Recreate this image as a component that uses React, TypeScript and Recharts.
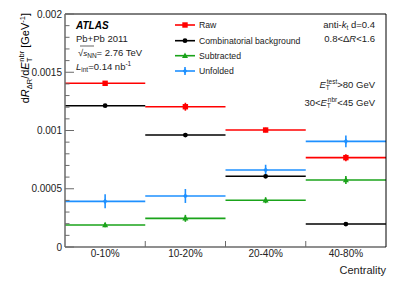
import React from 'react'
import { ComposedChart, Scatter, ErrorBar, XAxis, YAxis, ReferenceLine } from 'recharts'

const categories = ['0-10%', '10-20%', '20-40%', '40-80%']
const raw = [0.001405, 0.001204, 0.001004, 0.000767]
const rawErr = [0.00002, 0.000034, 0.00002, 0.00003]
const background = [0.001213, 0.000961, 0.000607, 0.000197]
const backgroundErr = [0.000006, 0.000006, 0.000006, 0.000005]
const subtracted = [0.000189, 0.000246, 0.000401, 0.000575]
const subtractedErr = [0.00002, 0.00003, 0.000025, 0.000034]
const unfolded = [0.000392, 0.000438, 0.000661, 0.000907]
const unfoldedErr = [0.00006, 0.00006, 0.000045, 0.00005]
const yMajor = [0, 0.0005, 0.001, 0.0015, 0.002]
const yLabels = ['0', '0.0005', '0.001', '0.0015', '0.002']
const yMinor = Array.from({ length: 21 }, (_, i) => i * 0.0001)
const xBounds = [0, 1, 2, 3, 4]

const W = 407
const H = 294
const M = { top: 14, right: 21, bottom: 47, left: 65 }
const font = '"Liberation Sans", Arial, sans-serif'
const axisGray = '#6a6a6a'

const series = [
  { name: 'Raw', values: raw, errs: rawErr, color: '#ff0000', marker: 'square' },
  { name: 'Combinatorial background', values: background, errs: backgroundErr, color: '#000000', marker: 'circle' },
  { name: 'Subtracted', values: subtracted, errs: subtractedErr, color: '#1aa31a', marker: 'triangle' },
  { name: 'Unfolded', values: unfolded, errs: unfoldedErr, color: '#1e90ff', marker: 'diamond' },
]

function Marker({ type, cx, cy, color }: { type: string; cx: number; cy: number; color: string }) {
  if (type === 'square') return <rect x={cx - 2.7} y={cy - 2.7} width={5.4} height={5.4} fill={color} />
  if (type === 'circle') return <circle cx={cx} cy={cy} r={2.4} fill={color} />
  if (type === 'triangle')
    return <polygon points={`${cx},${cy - 3.3} ${cx + 3},${cy + 2.2} ${cx - 3},${cy + 2.2}`} fill={color} />
  return <polygon points={`${cx},${cy - 2.8} ${cx + 2.2},${cy} ${cx},${cy + 2.8} ${cx - 2.2},${cy}`} fill={color} />
}

function isMajor(v: number) {
  return yMajor.some((m) => Math.abs(m - v) < 1e-9)
}

function LeftTick(props: any) {
  const { y, payload } = props
  const major = isMajor(payload.value)
  const idx = yMajor.findIndex((m) => Math.abs(m - payload.value) < 1e-9)
  const x0 = M.left
  return (
    <g>
      <line x1={x0} x2={x0 + (major ? 9 : 4.5)} y1={y} y2={y} stroke={axisGray} strokeWidth={1} />
      {major && (
        <text x={x0 - 3} y={y + 3.5} textAnchor="end" fontSize={10} fill="#222" fontFamily={font}>
          {yLabels[idx]}
        </text>
      )}
    </g>
  )
}

function RightTick(props: any) {
  const { y, payload } = props
  const major = isMajor(payload.value)
  const x0 = W - M.right
  return <line x1={x0} x2={x0 - (major ? 9 : 4.5)} y1={y} y2={y} stroke={axisGray} strokeWidth={1} />
}

function BottomTick(props: any) {
  const { x, payload } = props
  const y0 = H - M.bottom
  const v = payload.value
  if (v === 0 || v === 4) return null
  return <line x1={x} x2={x} y1={y0} y2={y0 - 6} stroke={axisGray} strokeWidth={1} />
}

function TopTick(props: any) {
  const { x, payload } = props
  const v = payload.value
  if (v === 0 || v === 4) return null
  return <line x1={x} x2={x} y1={M.top} y2={M.top + 6} stroke={axisGray} strokeWidth={1} />
}

export default function App() {
  const plotW = W - M.left - M.right
  return (
    <div style={{ position: 'absolute', left: 0, top: 0, width: W, height: H, background: '#fff' }}>
      <ComposedChart width={W} height={H} margin={{ top: 0, right: 0, bottom: 0, left: 0 }}>
        <XAxis
          xAxisId="b"
          type="number"
          dataKey="x"
          domain={[0, 4]}
          ticks={xBounds}
          tick={<BottomTick />}
          tickLine={false}
          axisLine={{ stroke: axisGray, strokeWidth: 1.5 }}
          height={M.bottom}
          interval={0}
        />
        <XAxis
          xAxisId="t"
          orientation="top"
          type="number"
          domain={[0, 4]}
          ticks={xBounds}
          tick={<TopTick />}
          tickLine={false}
          axisLine={{ stroke: '#000', strokeWidth: 1 }}
          height={M.top}
          interval={0}
        />
        <YAxis
          yAxisId="l"
          type="number"
          domain={[0, 0.002]}
          ticks={yMinor}
          tick={<LeftTick />}
          tickLine={false}
          axisLine={{ stroke: axisGray, strokeWidth: 1.5 }}
          width={M.left}
          interval={0}
        />
        <YAxis
          yAxisId="r"
          orientation="right"
          type="number"
          domain={[0, 0.002]}
          ticks={yMinor}
          tick={<RightTick />}
          tickLine={false}
          axisLine={{ stroke: '#000', strokeWidth: 1 }}
          width={M.right}
          interval={0}
        />
        {series.map((s) => (
          <Scatter
            key={s.name}
            xAxisId="b"
            yAxisId="l"
            isAnimationActive={false}
            data={s.values.map((v, i) => ({ x: i + 0.5, y: v, xe: 0.5, ye: s.errs[i] }))}
            dataKey="y"
            shape={(p: any) => <Marker type={s.marker} cx={p.cx} cy={p.cy} color={s.color} />}
          >
            <ErrorBar dataKey="xe" direction="x" width={0} stroke={s.color} strokeWidth={1.6} />
            <ErrorBar dataKey="ye" direction="y" width={0} stroke={s.color} strokeWidth={1.6} />
          </Scatter>
        ))}
      </ComposedChart>
      <svg width={W} height={H} style={{ position: 'absolute', left: 0, top: 0 }} fontFamily={font}>
        {/* y title */}
        <text transform="translate(29,13) rotate(-90)" textAnchor="end" fontSize={11} fill="#000">
          d<tspan fontStyle="italic">R</tspan>
          <tspan fontSize={7.5} dy={3}>ΔR</tspan>
          <tspan dy={-3}>/d</tspan>
          <tspan fontStyle="italic">E</tspan>
          <tspan fontSize={7.5} dy={3}>T</tspan>
          <tspan fontSize={7.5} dy={-8} dx={-4}>nbr</tspan>
          <tspan dy={5}> [GeV</tspan>
          <tspan fontSize={7.5} dy={-4}>-1</tspan>
          <tspan dy={4}>]</tspan>
        </text>
        {/* category labels */}
        {categories.map((c, i) => (
          <text
            key={c}
            x={M.left + (plotW * (i + 0.5)) / 4}
            y={257}
            textAnchor="middle"
            fontSize={10}
            fill="#222"
          >
            {c}
          </text>
        ))}
        <text x={W - M.right} y={274} textAnchor="end" fontSize={11} fill="#222">
          Centrality
        </text>
        {/* ATLAS block */}
        <text x={76} y={28.5} fontSize={10} fontWeight="bold" fontStyle="italic">ATLAS</text>
        <text x={76} y={42} fontSize={9.5} fill="#222">Pb+Pb 2011</text>
        <text x={76} y={55.5} fontSize={9.5} fill="#222">
          <tspan dx={2}>√</tspan>
          <tspan fontStyle="italic" fontSize={8}>s</tspan>
          <tspan fontSize={6.5} dy={2}>NN</tspan>
          <tspan dy={-2}>= 2.76 TeV</tspan>
        </text>
        <line x1={80} x2={94} y1={46} y2={46} stroke="#222" strokeWidth={0.7} />
        <text x={76} y={70} fontSize={9.5} fill="#222">
          <tspan fontStyle="italic">L</tspan>
          <tspan fontSize={6.5} dy={2}>int</tspan>
          <tspan dy={-2}>=0.14 nb</tspan>
          <tspan fontSize={6.5} dy={-4}>-1</tspan>
        </text>
        {/* legend */}
        {series.map((s, i) => {
          const y = [25, 40.7, 55.7, 71][i]
          return (
            <g key={s.name}>
              <line x1={175} x2={195} y1={y} y2={y} stroke={s.color} strokeWidth={1.6} />
              {s.marker === 'diamond' && <line x1={185} x2={185} y1={y - 4} y2={y + 4} stroke={s.color} strokeWidth={1.6} />}
              <Marker type={s.marker} cx={185} cy={y} color={s.color} />
              <text x={199} y={y + 3.2} fontSize={8.7} fill="#222">{s.name}</text>
            </g>
          )
        })}
        {/* right block */}
        <text x={375} y={28.3} textAnchor="end" fontSize={9.5} fill="#222">
          anti-<tspan fontStyle="italic">k</tspan>
          <tspan fontSize={6.5} dy={2}>t</tspan>
          <tspan dy={-2}> d=0.4</tspan>
        </text>
        <text x={375} y={41.5} textAnchor="end" fontSize={9.5} fill="#222">
          0.8&lt;Δ<tspan fontStyle="italic">R</tspan>&lt;1.6
        </text>
        <text x={375} y={87.5} textAnchor="end" fontSize={9.5} fill="#222">
          <tspan fontStyle="italic">E</tspan>
          <tspan fontSize={6.5} dy={2}>T</tspan>
          <tspan fontSize={6.5} dy={-6} dx={-3}>test</tspan>
          <tspan dy={4}>&gt;80 GeV</tspan>
        </text>
        <text x={375} y={105.5} textAnchor="end" fontSize={9.5} fill="#222">
          30&lt;<tspan fontStyle="italic">E</tspan>
          <tspan fontSize={6.5} dy={2}>T</tspan>
          <tspan fontSize={6.5} dy={-6} dx={-3}>nbr</tspan>
          <tspan dy={4}>&lt;45 GeV</tspan>
        </text>
      </svg>
    </div>
  )
}
